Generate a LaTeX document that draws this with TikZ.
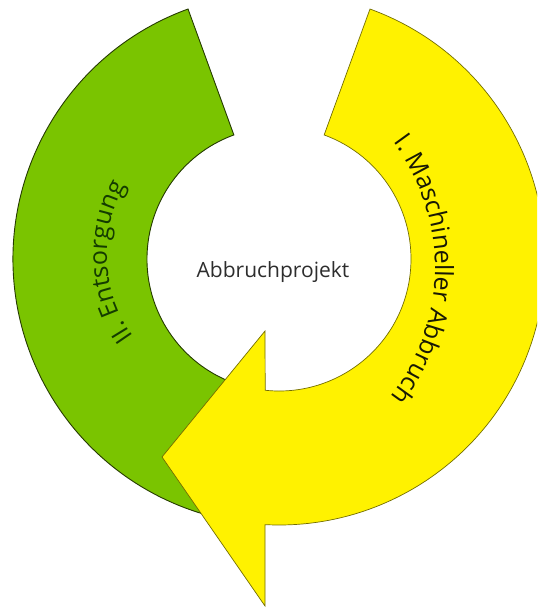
\documentclass[tikz,border=0pt]{standalone}
\usepackage{fontspec}
\setmainfont{Open Sans}
\usetikzlibrary{decorations.text}
\definecolor{entsgreen}{RGB}{122,196,0}
\definecolor{abbryellow}{RGB}{255,242,0}
\definecolor{greenink}{RGB}{20,60,0}
\definecolor{yellowink}{RGB}{25,25,5}
\definecolor{midink}{RGB}{45,45,45}
\newcommand{\arcfont}{\fontsize{25}{30}\selectfont}
\begin{document}
\begin{tikzpicture}[x=1pt,y=1pt,
    greenband/.style={fill=entsgreen,draw=black!70!entsgreen,line width=0.9pt},
    yellowband/.style={fill=abbryellow,draw=black!55!abbryellow,line width=0.7pt},
    midlabel/.style={text=midink,font=\fontsize{21}{25}\selectfont}]
  \clip (0,0) rectangle (537,609);
  \coordinate (c) at (279,350);
  \coordinate (gtc) at (247,354);
  \coordinate (ytc) at (225,341);
  \coordinate (wingbot) at (265,3);
  \coordinate (tip) at (162,152);
  \coordinate (wingtop) at (265,278);
  % II. Entsorgung
  \draw[greenband] ([shift={(110:266)}]c) arc[start angle=110,end angle=260,radius=266]
    -- ++(80:134) arc[start angle=260,end angle=110,radius=132] -- cycle;
  % I. Maschineller Abbruch
  \draw[yellowband] ([shift={(70:266)}]c) arc[start angle=70,end angle=-93,radius=266]
    -- (wingbot) -- (tip) -- (wingtop) -- ([shift={(-96:132)}]c)
    arc[start angle=-96,end angle=70,radius=132] -- cycle;
  \path[decorate,decoration={text along path,text align=center,
      text={|\arcfont\color{greenink}|II. Entsorgung}}]
    ([shift={(235:140)}]gtc) arc[start angle=235,end angle=131,radius=140];
  \path[decorate,decoration={text along path,text align=center,
      text={|\arcfont\color{yellowink}|I. Maschineller Abbruch}}]
    ([shift={(60:210)}]ytc) arc[start angle=60,end angle=-61,radius=210];
  \node[midlabel] (projekt) at (273,337) {Abbruchprojekt};
\end{tikzpicture}
\end{document}
